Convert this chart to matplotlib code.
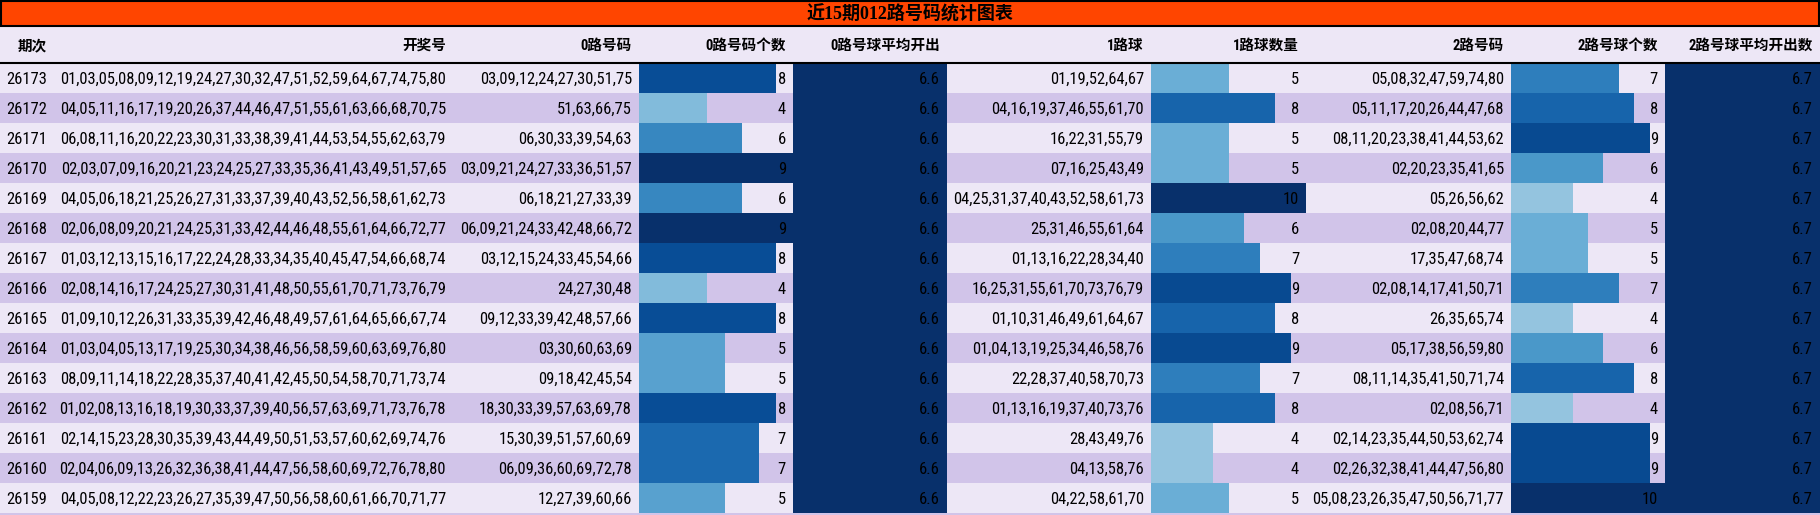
import matplotlib
matplotlib.use("Agg")
import matplotlib.pyplot as plt
from matplotlib.patches import Rectangle

# data
periods = [26173, 26172, 26171, 26170, 26169, 26168, 26167, 26166,
           26165, 26164, 26163, 26162, 26161, 26160, 26159]
draws = [
    "01,03,05,08,09,12,19,24,27,30,32,47,51,52,59,64,67,74,75,80",
    "04,05,11,16,17,19,20,26,37,44,46,47,51,55,61,63,66,68,70,75",
    "06,08,11,16,20,22,23,30,31,33,38,39,41,44,53,54,55,62,63,79",
    "02,03,07,09,16,20,21,23,24,25,27,33,35,36,41,43,49,51,57,65",
    "04,05,06,18,21,25,26,27,31,33,37,39,40,43,52,56,58,61,62,73",
    "02,06,08,09,20,21,24,25,31,33,42,44,46,48,55,61,64,66,72,77",
    "01,03,12,13,15,16,17,22,24,28,33,34,35,40,45,47,54,66,68,74",
    "02,08,14,16,17,24,25,27,30,31,41,48,50,55,61,70,71,73,76,79",
    "01,09,10,12,26,31,33,35,39,42,46,48,49,57,61,64,65,66,67,74",
    "01,03,04,05,13,17,19,25,30,34,38,46,56,58,59,60,63,69,76,80",
    "08,09,11,14,18,22,28,35,37,40,41,42,45,50,54,58,70,71,73,74",
    "01,02,08,13,16,18,19,30,33,37,39,40,56,57,63,69,71,73,76,78",
    "02,14,15,23,28,30,35,39,43,44,49,50,51,53,57,60,62,69,74,76",
    "02,04,06,09,13,26,32,36,38,41,44,47,56,58,60,69,72,76,78,80",
    "04,05,08,12,22,23,26,27,35,39,47,50,56,58,60,61,66,70,71,77",
]
road0 = [
    "03,09,12,24,27,30,51,75", "51,63,66,75", "06,30,33,39,54,63",
    "03,09,21,24,27,33,36,51,57", "06,18,21,27,33,39",
    "06,09,21,24,33,42,48,66,72", "03,12,15,24,33,45,54,66", "24,27,30,48",
    "09,12,33,39,42,48,57,66", "03,30,60,63,69", "09,18,42,45,54",
    "18,30,33,39,57,63,69,78", "15,30,39,51,57,60,69",
    "06,09,36,60,69,72,78", "12,27,39,60,66",
]
count0 = [8, 4, 6, 9, 6, 9, 8, 4, 8, 5, 5, 8, 7, 7, 5]
avg0 = 6.6
road1 = [
    "01,19,52,64,67", "04,16,19,37,46,55,61,70", "16,22,31,55,79",
    "07,16,25,43,49", "04,25,31,37,40,43,52,58,61,73", "25,31,46,55,61,64",
    "01,13,16,22,28,34,40", "16,25,31,55,61,70,73,76,79",
    "01,10,31,46,49,61,64,67", "01,04,13,19,25,34,46,58,76",
    "22,28,37,40,58,70,73", "01,13,16,19,37,40,73,76", "28,43,49,76",
    "04,13,58,76", "04,22,58,61,70",
]
count1 = [5, 8, 5, 5, 10, 6, 7, 9, 8, 9, 7, 8, 4, 4, 5]
road2 = [
    "05,08,32,47,59,74,80", "05,11,17,20,26,44,47,68",
    "08,11,20,23,38,41,44,53,62", "02,20,23,35,41,65", "05,26,56,62",
    "02,08,20,44,77", "17,35,47,68,74", "02,08,14,17,41,50,71",
    "26,35,65,74", "05,17,38,56,59,80", "08,11,14,35,41,50,71,74",
    "02,08,56,71", "02,14,23,35,44,50,53,62,74",
    "02,26,32,38,41,44,47,56,80", "05,08,23,26,35,47,50,56,71,77",
]
count2 = [7, 8, 9, 6, 4, 5, 5, 7, 4, 6, 8, 4, 9, 9, 10]
avg2 = 6.7

headers = ["期次", "开奖号", "0路号码", "0路号码个数", "0路号球平均开出", "1路球",
           "1路球数量", "2路号码", "2路号球个数", "2路号球平均开出数"]
title = "近15期012路号码统计图表"

fam = ["Roboto Condensed", "Liberation Sans", "Noto Sans CJK SC", "DejaVu Sans"]
head_fam = ["Roboto Condensed", "Noto Sans CJK SC", "DejaVu Sans"]

W, H = 1820, 515
edges = [0, 54, 453, 639, 793, 947, 1151, 1306, 1511, 1665, 1820]
title_h, head_b, row_h = 27, 63, 30
pad = 7
light, purple = "#EDE7F6", "#D1C4E9"
cmap = plt.get_cmap("Blues")

fig = plt.figure(figsize=(W / 100, H / 100), dpi=100)
ax = fig.add_axes([0, 0, 1, 1])
ax.set_xlim(0, W)
ax.set_ylim(H, 0)
ax.axis("off")

# pick a body size so the long draw strings span about 385 px like the reference
probe = ax.text(0, 0, draws[0], fontsize=12, family=fam)
fig.canvas.draw()
probe_w = probe.get_window_extent().width
probe.remove()
body_size = min(13.5, 12 * 385 / probe_w)

n = len(periods)
ys = [head_b + row_h * (i + 0.5) for i in range(n)]

# backgrounds
ax.add_patch(Rectangle((0, title_h), W, head_b - title_h, color=light, zorder=0))
for i, y in enumerate(ys):
    ax.barh(y, W, height=row_h, left=0, color=light if i % 2 == 0 else purple,
            zorder=0, linewidth=0)
ax.barh(ys[-1] + row_h, W, height=row_h, left=0, color=purple, zorder=0, linewidth=0)

# title bar
ax.add_patch(Rectangle((1, 1), W - 2, title_h - 2, facecolor="#FF4500",
                       edgecolor="black", linewidth=1.5, zorder=3))
ax.text(W / 2, title_h / 2 + 1, title, ha="center", va="center", fontsize=13,
        fontweight="bold", family=["Liberation Serif", "Noto Sans CJK SC"], zorder=4)
ax.plot([0, W], [head_b, head_b], color="black", linewidth=1.5, zorder=3)

# headers
for j, h in enumerate(headers):
    ax.text(edges[j + 1] - pad, (title_h + head_b) / 2 + 1, h, ha="right",
            va="center", fontsize=10.5, fontweight="bold", family=head_fam, zorder=4)

# bar columns, coloured by value / column max
def bars(col, vals):
    left = edges[col]
    w = edges[col + 1] - left
    vmax = max(vals)
    ax.barh(ys, [v / vmax * w for v in vals], height=row_h, left=left,
            color=[cmap(v / vmax) for v in vals], linewidth=0, zorder=1)

bars(3, count0)
bars(6, count1)
bars(8, count2)
for col in (4, 9):
    ax.barh(ys, [edges[col + 1] - edges[col]] * n, height=row_h, left=edges[col],
            color=cmap(1.0), linewidth=0, zorder=1)

# cell text
columns = [periods, draws, road0, count0, [avg0] * n, road1, count1, road2,
           count2, [avg2] * n]
for j, vals in enumerate(columns):
    for y, v in zip(ys, vals):
        ax.text(edges[j + 1] - pad, y + 1, str(v), ha="right", va="center",
                fontsize=body_size, family=fam, color="black", zorder=4)

fig.savefig("out.png", dpi=100)
